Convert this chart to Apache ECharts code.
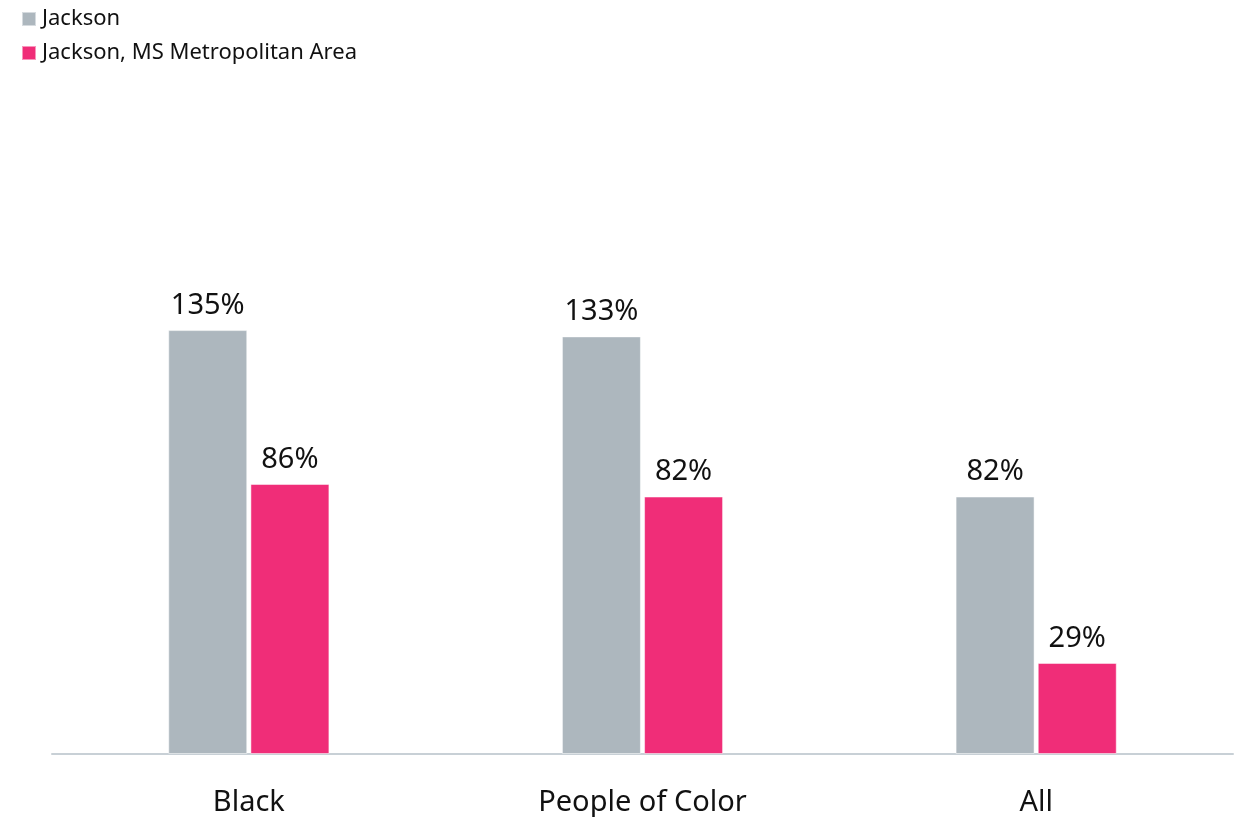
<!DOCTYPE html>
<html>
<head>
<meta charset="utf-8">
<script src="https://cdn.jsdelivr.net/npm/echarts@6/dist/echarts.min.js"></script>
<style>
  html, body { margin: 0; padding: 0; background: #fff; }
  #chart { width: 1238px; height: 817px; }
</style>
</head>
<body>
<div id="chart"></div>
<script>
// Categories and series values (percent)
const categories = ['Black', 'People of Color', 'All'];
const jackson = [135, 133, 82];
const jacksonMetro = [86, 82, 29];
const seriesNames = ['Jackson', 'Jackson, MS Metropolitan Area'];
const colors = ['#adb7be', '#f02d78'];

const font = '"Noto Sans", "Open Sans", sans-serif';

const chart = echarts.init(document.getElementById('chart'));

function barSeries(name, data, color) {
  return {
    name: name,
    type: 'bar',
    data: data,
    barWidth: 79,
    barGap: '4%',
    itemStyle: { color: color, borderColor: 'rgba(255,255,255,0.5)', borderWidth: 1 },
    label: {
      show: true,
      position: 'top',
      distance: 10,
      formatter: '{c}%',
      color: '#111',
      fontSize: 29,
      fontFamily: font
    },
    emphasis: { disabled: true }
  };
}

chart.setOption({
  animation: false,
  legend: {
    orient: 'vertical',
    left: 16,
    top: 3,
    itemWidth: 14,
    itemHeight: 14,
    itemGap: 12,
    icon: 'rect',
    textStyle: { fontSize: 22, color: '#111', fontFamily: font, padding: [0, 0, 0, 1] },
    data: seriesNames
  },
  grid: { left: 52, right: 5, top: 283, bottom: 63 },
  xAxis: {
    type: 'category',
    data: categories,
    axisLine: { lineStyle: { color: '#c8d0d6', width: 2 } },
    axisTick: { show: false },
    axisLabel: { fontSize: 29, color: '#111', fontFamily: font, margin: 34 }
  },
  yAxis: {
    type: 'value',
    min: 0,
    max: 150,
    show: false,
    splitLine: { show: false }
  },
  series: [
    barSeries(seriesNames[0], jackson, colors[0]),
    barSeries(seriesNames[1], jacksonMetro, colors[1])
  ]
});
</script>
</body>
</html>
